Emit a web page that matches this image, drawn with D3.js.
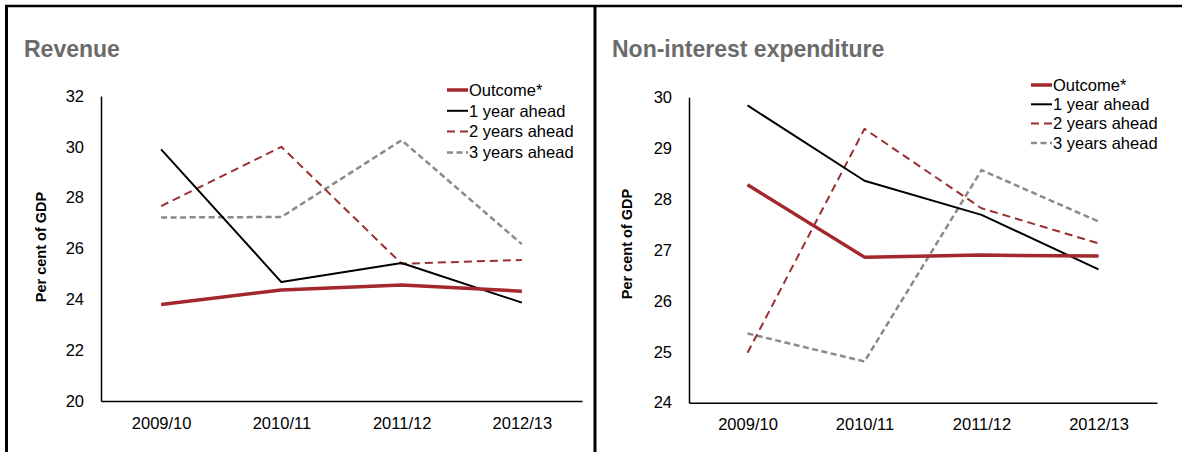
<!DOCTYPE html>
<html>
<head>
<meta charset="utf-8">
<script src="https://cdn.jsdelivr.net/npm/d3@7"></script>
<style>
html,body{margin:0;padding:0;background:#fff;}
svg{display:block;}
text{font-family:"Liberation Sans",Arial,sans-serif;}
</style>
</head>
<body>
<svg id="chart" width="1182" height="452"></svg>
<script>
const categories = ["2009/10", "2010/11", "2011/12", "2012/13"];
const seriesNames = ["Outcome*", "1 year ahead", "2 years ahead", "3 years ahead"];

const revenueOutcome = [23.8, 24.37, 24.56, 24.32];
const revenue1y = [29.9, 24.68, 25.43, 23.87];
const revenue2y = [27.67, 30.0, 25.4, 25.55];
const revenue3y = [27.22, 27.24, 30.26, 26.17];
const revenueTicks = [20, 22, 24, 26, 28, 30, 32];

const expOutcome = [28.28, 26.86, 26.9, 26.88];
const exp1y = [29.84, 28.36, 27.69, 26.62];
const exp2y = [24.98, 29.38, 27.82, 27.13];
const exp3y = [25.36, 24.81, 28.57, 27.56];
const expTicks = [24, 25, 26, 27, 28, 29, 30];

const styles = [
  {color: "#a3282d", width: 3.5, dash: null},
  {color: "#000000", width: 2, dash: null},
  {color: "#98302f", width: 2, dash: "8,5"},
  {color: "#8a8a8a", width: 2.5, dash: "6,3.5"}
];

const svg = d3.select("#chart");

// frame
svg.append("line").attr("x1", 5).attr("x2", 1182).attr("y1", 6).attr("y2", 6).attr("stroke", "#000").attr("stroke-width", 2.5);
svg.append("line").attr("x1", 6.5).attr("x2", 6.5).attr("y1", 5).attr("y2", 452).attr("stroke", "#000").attr("stroke-width", 3);
svg.append("line").attr("x1", 595).attr("x2", 595).attr("y1", 5).attr("y2", 452).attr("stroke", "#000").attr("stroke-width", 3);

function panel(cfg) {
  const g = svg.append("g");
  const x = d3.scalePoint().domain(categories).range([cfg.x0, cfg.x1]).padding(0.5);
  const y = d3.scaleLinear().domain([cfg.ticks[0], cfg.ticks[cfg.ticks.length - 1]]).range([cfg.y0, cfg.y1]);

  g.append("text").attr("x", cfg.titleX).attr("y", 57).attr("font-size", 23).attr("font-weight", "bold")
    .attr("fill", "#6b6b6b").text(cfg.title);

  const yAxis = g.append("g").attr("transform", `translate(${cfg.x0},0)`)
    .call(d3.axisLeft(y).tickValues(cfg.ticks).tickFormat(d3.format("d")).tickSize(0).tickPadding(17));
  yAxis.select(".domain").attr("stroke", "#000").attr("stroke-width", 1.5);
  yAxis.selectAll("text").attr("font-size", 16.5).attr("fill", "#000").attr("font-family", "Liberation Sans, Arial, sans-serif");

  const xAxis = g.append("g").attr("transform", `translate(0,${cfg.y0})`)
    .call(d3.axisBottom(x).tickSize(0).tickPadding(16));
  xAxis.select(".domain").attr("stroke", "#000").attr("stroke-width", 1.5);
  xAxis.selectAll("text").attr("font-size", 16.5).attr("fill", "#000").attr("font-family", "Liberation Sans, Arial, sans-serif");

  g.append("text").attr("transform", `translate(${cfg.ytX},${cfg.ytY}) rotate(-90)`)
    .attr("text-anchor", "middle").attr("dy", "0.35em").attr("font-size", 14.5).attr("font-weight", "bold")
    .text("Per cent of GDP");

  const line = d3.line().x((d, i) => x(categories[i])).y(d => y(d));
  const order = [3, 2, 1, 0];
  order.forEach(k => {
    const s = styles[k];
    g.append("path").datum(cfg.series[k]).attr("d", line).attr("fill", "none")
      .attr("stroke", s.color).attr("stroke-width", s.width)
      .attr("stroke-dasharray", s.dash).attr("stroke-linejoin", "round");
  });

  seriesNames.forEach((name, k) => {
    const s = styles[k];
    const ly = cfg.legY + k * cfg.legStep;
    g.append("line").attr("x1", cfg.legX).attr("x2", cfg.legX + 21).attr("y1", ly).attr("y2", ly)
      .attr("stroke", s.color).attr("stroke-width", s.width).attr("stroke-dasharray", s.dash);
    g.append("text").attr("x", cfg.legX + 22).attr("y", ly).attr("dy", "0.35em")
      .attr("font-size", 16.5).text(name);
  });
}

panel({
  title: "Revenue", titleX: 24,
  x0: 101, x1: 582, y0: 401, y1: 96,
  ticks: revenueTicks,
  series: [revenueOutcome, revenue1y, revenue2y, revenue3y],
  ytX: 41, ytY: 247,
  legX: 447, legY: 90, legStep: 20.8
});

panel({
  title: "Non-interest expenditure", titleX: 612,
  x0: 689, x1: 1157, y0: 402.7, y1: 97.3,
  ticks: expTicks,
  series: [expOutcome, exp1y, exp2y, exp3y],
  ytX: 627, ytY: 244,
  legX: 1031, legY: 85, legStep: 19.3
});
</script>
</body>
</html>
